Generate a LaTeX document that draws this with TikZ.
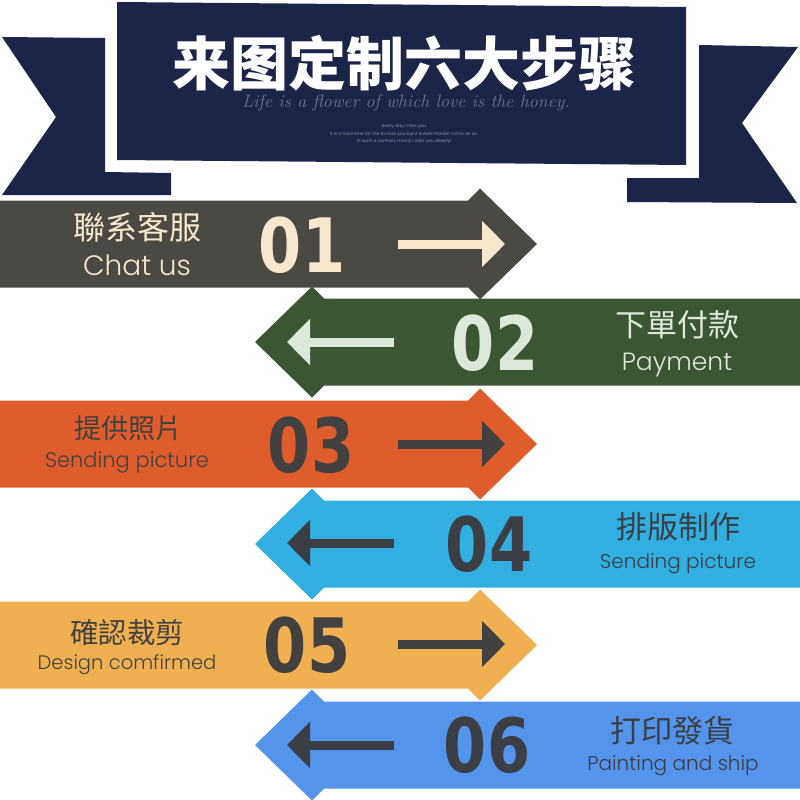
\documentclass[tikz,border=0pt]{standalone}
\usepackage{fontspec}
\newfontfamily\titlefont{Noto Sans CJK SC}
\newfontfamily\cnfont{Noto Sans CJK TC}
\newfontfamily\enfont{Poppins Light}
\newfontfamily\numfont{DejaVu Sans Condensed}
\usetikzlibrary{arrows.meta}

\definecolor{navy}{HTML}{1C2448}
\definecolor{mottogray}{HTML}{6B7392}
\definecolor{notegray}{HTML}{AEB3C6}
\definecolor{stepA}{HTML}{4B4943}
\definecolor{stepB}{HTML}{3C5534}
\definecolor{stepC}{HTML}{DF5C2C}
\definecolor{stepD}{HTML}{31AFE0}
\definecolor{stepE}{HTML}{F0B051}
\definecolor{stepF}{HTML}{5594EB}
\definecolor{cream}{HTML}{F6E7CD}
\definecolor{mint}{HTML}{DCE8D9}
\definecolor{ink}{HTML}{434140}
\definecolor{slate}{HTML}{3C3E46}

\begin{document}
\begin{tikzpicture}[x=1pt, y=-1pt,
		numlabel/.style={font=\numfont\bfseries\fontsize{75}{75}\selectfont, inner sep=0pt, xscale=0.92, transform shape},
		cnlabel/.style={font=\cnfont\fontsize{#1}{#1}\selectfont, inner sep=0pt},
		enlabel/.style={font=\enfont\fontsize{#1}{#1}\selectfont, inner sep=0pt, anchor=base},
		pointer/.style={line width=9pt, -{Triangle[length=23pt, width=45pt]}},
	]
		\useasboundingbox (0,0) rectangle (800,800);
		\fill[white] (0,0) rectangle (800,800);

		% ribbon banner
		\fill[navy] (2,37) -- (105,38) -- (105,172) -- (171,173) -- (171,195) -- (2,195) -- (56,117) -- cycle;
		\fill[navy] (699,45) -- (798,47) -- (742,123) -- (797,203) -- (627,202) -- (627,178) -- (699,178) -- cycle;
		\fill[navy] (117,2) -- (686,7) -- (686,165) -- (117,160) -- cycle;
		\node[font=\titlefont\bfseries\fontsize{58}{58}\selectfont, text=white, inner sep=0pt] (title) at (404,63) {来图定制六大步骤};
		\node[font=\itshape\fontsize{18}{18}\selectfont, text=mottogray, inner sep=0pt] (motto) at (406,103) {Life is a flower of which love is the honey.};
		\node[font=\enfont\fontsize{4.4}{7.5}\selectfont, text=notegray, align=center, inner sep=0pt] (note) at (404,134)
			{every day i miss you\\It is a hard time for me to miss you but it is even harder not to do so.\\In such a contrary mood, i miss you deeply!};

		% step bands
		\foreach \c/\col in {244/stepA, 444/stepC, 645/stepE}
			\fill[\col] (0,\c-43.5) -- (468,\c-43.5) -- (480,\c-55.5) -- (537,\c) -- (480,\c+55.5) -- (468,\c+43.5) -- (0,\c+43.5) -- cycle;
		\foreach \c/\col in {342/stepB, 544/stepD, 745/stepF}
			\fill[\col] (800,\c-43.5) -- (324,\c-43.5) -- (312,\c-55.5) -- (255,\c) -- (312,\c+55.5) -- (324,\c+43.5) -- (800,\c+43.5) -- cycle;

		% step 01
		\node[cnlabel=32, text=cream] (cn1) at (137,227) {聯系客服};
		\node[enlabel=28, text=cream] (en1) at (137,275) {Chat us};
		\node[numlabel, text=cream] (num1) at (302,245) {01};
		\coordinate (p1a) at (398,244);
		\coordinate (p1b) at (505,244);
		\draw[pointer, cream] (p1a) -- (p1b);

		% step 02
		\node[cnlabel=31, text=mint] (cn2) at (677,325) {下單付款};
		\node[enlabel=25, text=mint] (en2) at (677,370) {Payment};
		\node[numlabel, text=mint] (num2) at (495,343) {02};
		\coordinate (p2a) at (394,342);
		\coordinate (p2b) at (287,342);
		\draw[pointer, mint] (p2a) -- (p2b);

		% step 03
		\node[cnlabel=27, text=ink] (cn3) at (128,428) {提供照片};
		\node[enlabel=21, text=ink] (en3) at (127,467) {Sending picture};
		\node[numlabel, text=ink] (num3) at (311,445) {03};
		\coordinate (p3a) at (398,444);
		\coordinate (p3b) at (505,444);
		\draw[pointer, ink] (p3a) -- (p3b);

		% step 04
		\node[cnlabel=31, text=slate] (cn4) at (678,527) {排版制作};
		\node[enlabel=20, text=slate] (en4) at (678,568) {Sending picture};
		\node[numlabel, text=slate] (num4) at (489,544) {04};
		\coordinate (p4a) at (394,543);
		\coordinate (p4b) at (287,543);
		\draw[pointer, slate] (p4a) -- (p4b);

		% step 05
		\node[cnlabel=28.5, text=ink] (cn5) at (127,633) {確認裁剪};
		\node[enlabel=19.5, text=ink] (en5) at (127,669) {Design comfirmed};
		\node[numlabel, text=ink] (num5) at (307,645) {05};
		\coordinate (p5a) at (398,644);
		\coordinate (p5b) at (505,644);
		\draw[pointer, ink] (p5a) -- (p5b);

		% step 06
		\node[cnlabel=31, text=slate] (cn6) at (672,731) {打印發貨};
		\node[enlabel=20, text=slate] (en6) at (673,770) {Painting and ship};
		\node[numlabel, text=slate] (num6) at (487,745) {06};
		\coordinate (p6a) at (394,745);
		\coordinate (p6b) at (287,745);
		\draw[pointer, slate] (p6a) -- (p6b);
	\end{tikzpicture}
\end{document}
